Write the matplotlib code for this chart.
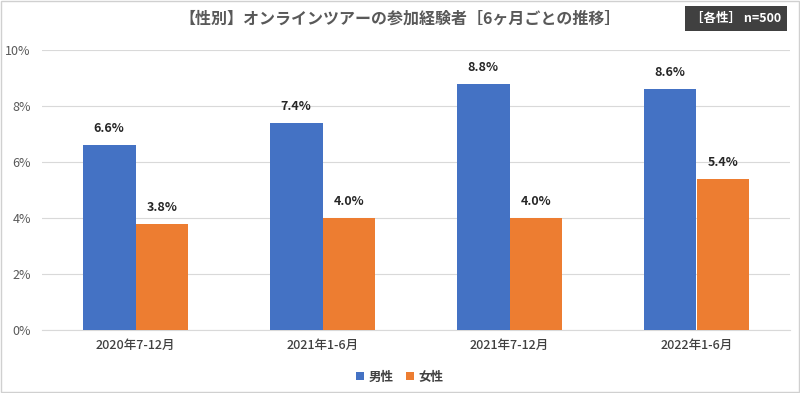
import numpy as np
import matplotlib.pyplot as plt
from matplotlib.ticker import FuncFormatter
from matplotlib.patches import Rectangle

plt.rcParams['font.family'] = ['Noto Sans CJK JP', 'DejaVu Sans']

# data
periods = ["2020年7-12月", "2021年1-6月", "2021年7-12月", "2022年1-6月"]
male = [6.6, 7.4, 8.8, 8.6]
female = [3.8, 4.0, 4.0, 5.4]
series_names = ["男性", "女性"]

blue = "#4472C4"
orange = "#ED7D31"

fig = plt.figure(figsize=(8, 3.93), dpi=100)
ax = fig.add_axes([0.0525, 0.160, 0.935, 0.713])

x = np.arange(len(periods))
w = 0.283
b1 = ax.bar(x - w / 2, male, w, color=blue, label=series_names[0], zorder=3)
b2 = ax.bar(x + w / 2, female, w, color=orange, label=series_names[1], zorder=3)

for bars, vals in [(b1, male), (b2, female)]:
    for rect, v in zip(bars, vals):
        ax.text(rect.get_x() + rect.get_width() / 2, v + 0.35, f"{v:.1f}%",
                ha="center", va="bottom", fontsize=9, fontweight="bold", color="#262626")

ax.set_xlim(-0.5, len(periods) - 0.5)
ax.set_ylim(0, 10)
ax.set_yticks(np.arange(0, 11, 2))
ax.yaxis.set_major_formatter(FuncFormatter(lambda v, p: f"{v:.0f}%"))
ax.grid(axis="y", color="#d9d9d9", linewidth=0.8, zorder=0)
ax.set_xticks(x)
ax.set_xticklabels(periods, fontsize=9, color="#404040", fontweight="medium")
ax.tick_params(axis="y", labelsize=9, labelcolor="#595959", length=0, pad=8)
ax.tick_params(axis="x", length=0, pad=6)
for s in ["top", "right", "left"]:
    ax.spines[s].set_visible(False)
ax.spines["bottom"].set_color("#d9d9d9")

fig.text(0.5, 0.953, "【性別】オンラインツアーの参加経験者［6ヶ月ごとの推移］",
         ha="center", va="center", fontsize=11.5, fontweight="bold", color="#595959")
fig.text(0.92, 0.953, "［各性］ n=500", ha="center", va="center", fontsize=9,
         fontweight="bold", color="white",
         bbox=dict(boxstyle="square,pad=0.45", facecolor="#404040", edgecolor="none"))

fig.legend(loc="center", bbox_to_anchor=(0.5, 0.04), ncol=2, frameon=False,
           fontsize=9, handlelength=0.6, handleheight=0.6, columnspacing=1.0,
           handletextpad=0.4, labelcolor="#404040", prop={"weight": "bold", "size": 9})

# light frame around the whole picture
fig.patches.append(Rectangle((0.001, 0.002), 0.998, 0.996, transform=fig.transFigure,
                             fill=False, edgecolor="#d0d0d0", linewidth=1.0))

fig.savefig("out.png", dpi=100)
